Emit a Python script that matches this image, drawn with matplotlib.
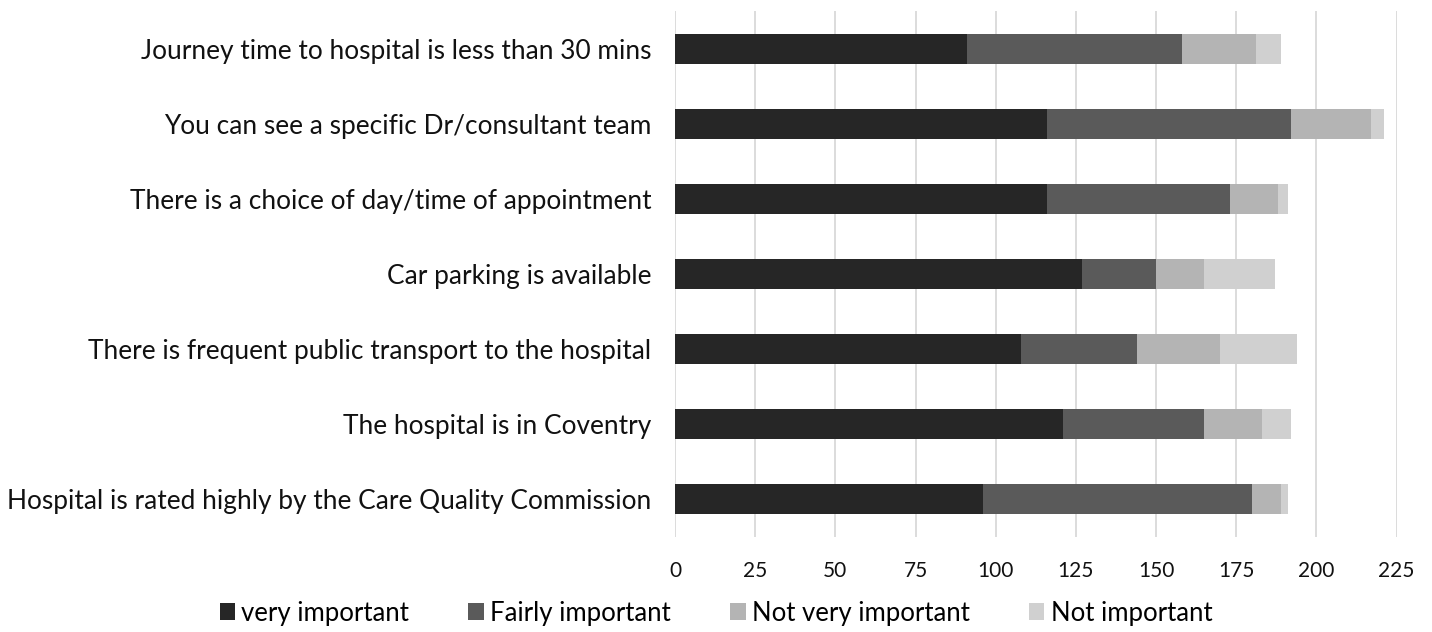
import matplotlib
matplotlib.use("Agg")
import matplotlib.pyplot as plt
import numpy as np

# values, listed top to bottom as in the chart
categories = [
    "Journey time to hospital is less than 30 mins",
    "You can see a specific Dr/consultant team",
    "There is a choice of day/time of appointment",
    "Car parking is available",
    "There is frequent public transport to the hospital",
    "The hospital is in Coventry",
    "Hospital is rated highly by the Care Quality Commission",
]
very_important = [91, 116, 116, 127, 108, 121, 96]
fairly_important = [67, 76, 57, 23, 36, 44, 84]
not_very_important = [23, 25, 15, 15, 26, 18, 9]
not_important = [8, 4, 3, 22, 24, 9, 2]

series_names = ["very important", "Fairly important", "Not very important", "Not important"]
colors = ["#262626", "#5a5a5a", "#b4b4b4", "#d0d0d0"]
x_ticks = [0, 25, 50, 75, 100, 125, 150, 175, 200, 225]

fig = plt.figure(figsize=(14.32, 6.32), dpi=100)
ax = fig.add_axes([0.4714, 0.1503, 0.5039, 0.8323])

y = np.arange(len(categories))
left = np.zeros(len(categories))
for name, vals, col in zip(series_names,
                           [very_important, fairly_important, not_very_important, not_important],
                           colors):
    ax.barh(y, vals, left=left, height=0.4, color=col, label=name, zorder=3)
    left += np.array(vals)

ax.set_ylim(len(categories) - 0.5, -0.5)
ax.set_xlim(0, 225)
ax.set_xticks(x_ticks)
ax.set_yticks(y)
ax.set_yticklabels(categories, fontsize=18.9, family="Lato", color="#111111")
ax.tick_params(axis="both", length=0)
ax.tick_params(axis="y", pad=17)
ax.tick_params(axis="x", pad=17, labelsize=15, labelcolor="#111111")
for lab in ax.get_xticklabels():
    lab.set_family("Lato")

ax.grid(axis="x", color="#d9d9d9", linewidth=1.3, zorder=0)
for s in ax.spines.values():
    s.set_visible(False)

fig.legend(loc="center", bbox_to_anchor=(0.5, 0.03), ncol=4, frameon=False,
           prop={"family": "Lato", "size": 18.5}, handlelength=0.6, handleheight=0.6,
           handletextpad=0.25, columnspacing=2.3)

fig.savefig("out.png", dpi=100)
